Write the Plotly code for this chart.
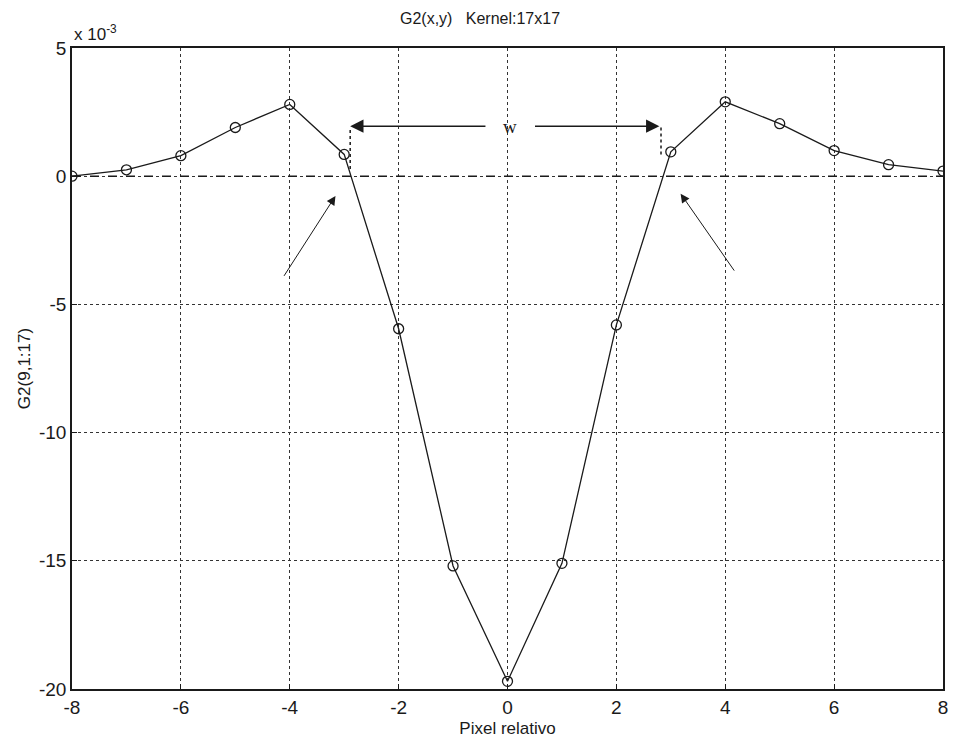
import plotly.graph_objects as go

# Data (units of 1e-3)
pixel = [-8, -7, -6, -5, -4, -3, -2, -1, 0, 1, 2, 3, 4, 5, 6, 7, 8]
g2 = [0.0, 0.25, 0.8, 1.9, 2.8, 0.85, -5.95, -15.2, -19.7, -15.1, -5.8, 0.95, 2.9, 2.05, 1.0, 0.45, 0.2]
x_ticks = [-8, -6, -4, -2, 0, 2, 4, 6, 8]
y_ticks = [-20, -15, -10, -5, 0, 5]

FONT = "Liberation Sans, Arial, sans-serif"
INK = "#1a1a1a"

fig = go.Figure()

# zero reference line
fig.add_trace(go.Scatter(x=[-8, 8], y=[0, 0], mode="lines",
                         line=dict(color=INK, width=1.6, dash="dash"),
                         hoverinfo="skip", showlegend=False))

fig.add_trace(go.Scatter(x=pixel, y=g2, mode="lines+markers",
                         line=dict(color=INK, width=1.3),
                         marker=dict(symbol="circle-open", size=10, color=INK,
                                     line=dict(width=1.3)),
                         showlegend=False))

# annotation geometry (data units)
w_left, w_right, w_y = -2.89, 2.79, 1.95
ann = []
ann.append(dict(x=w_left, y=w_y, ax=-0.35, ay=w_y, xref="x", yref="y", axref="x", ayref="y",
                showarrow=True, arrowhead=2, arrowsize=1.9, arrowwidth=1.4, arrowcolor=INK, text=" "))
ann.append(dict(x=w_right, y=w_y, ax=0.45, ay=w_y, xref="x", yref="y", axref="x", ayref="y",
                showarrow=True, arrowhead=2, arrowsize=1.9, arrowwidth=1.4, arrowcolor=INK, text=" "))
ann.append(dict(x=0.05, y=w_y, xref="x", yref="y", text="w", showarrow=False,
                font=dict(family="Liberation Serif, Times New Roman, serif", size=19, color=INK)))
ann.append(dict(x=-3.16, y=-0.77, ax=-4.16, ay=-4.07, xref="x", yref="y", axref="x", ayref="y",
                showarrow=True, arrowhead=2, arrowsize=1.8, arrowwidth=1, arrowcolor=INK, text=" "))
ann.append(dict(x=3.18, y=-0.68, ax=4.22, ay=-3.85, xref="x", yref="y", axref="x", ayref="y",
                showarrow=True, arrowhead=2, arrowsize=1.8, arrowwidth=1, arrowcolor=INK, text=" "))
# exponent label
ann.append(dict(x=0, y=1, xref="paper", yref="paper", xanchor="left", yanchor="bottom",
                text="x 10<sup>-3</sup>", showarrow=False, yshift=2,
                font=dict(family=FONT, size=17, color=INK)))

shapes = [
    dict(type="line", x0=w_left, x1=w_left, y0=1.8, y1=0.2, xref="x", yref="y",
         line=dict(color=INK, width=1.5, dash="dot")),
    dict(type="line", x0=2.82, x1=2.82, y0=1.9, y1=0.8, xref="x", yref="y",
         line=dict(color=INK, width=1.5, dash="dot")),
]

fig.update_layout(
    width=960, height=747,
    margin=dict(l=72, r=12, t=48, b=54),
    paper_bgcolor="white", plot_bgcolor="white",
    title=dict(text="G2(x,y)   Kernel:17x17", x=0.5, xanchor="center", y=0.983, yanchor="top",
               font=dict(family=FONT, size=16, color=INK)),
    annotations=ann, shapes=shapes,
    xaxis=dict(range=[-8, 8], tickvals=x_ticks, ticktext=[str(v) for v in x_ticks],
               showgrid=True, gridcolor="#333", griddash="dot", gridwidth=1.2,
               zeroline=False, showline=True, linecolor=INK, linewidth=1.5, mirror=True,
               ticks="inside", ticklen=5, tickcolor=INK,
               tickfont=dict(family=FONT, size=19, color=INK),
               title=dict(text="Pixel relativo", standoff=6, font=dict(family=FONT, size=17, color=INK))),
    yaxis=dict(range=[-20, 5], tickvals=y_ticks, ticktext=[str(v) for v in y_ticks],
               showgrid=True, gridcolor="#333", griddash="dot", gridwidth=1.2,
               zeroline=False, showline=True, linecolor=INK, linewidth=1.5, mirror=True,
               ticks="inside", ticklen=5, tickcolor=INK,
               tickfont=dict(family=FONT, size=19, color=INK),
               title=dict(text="G2(9,1:17)", standoff=4, font=dict(family=FONT, size=17, color=INK))),
)

fig.write_html("out.html")
